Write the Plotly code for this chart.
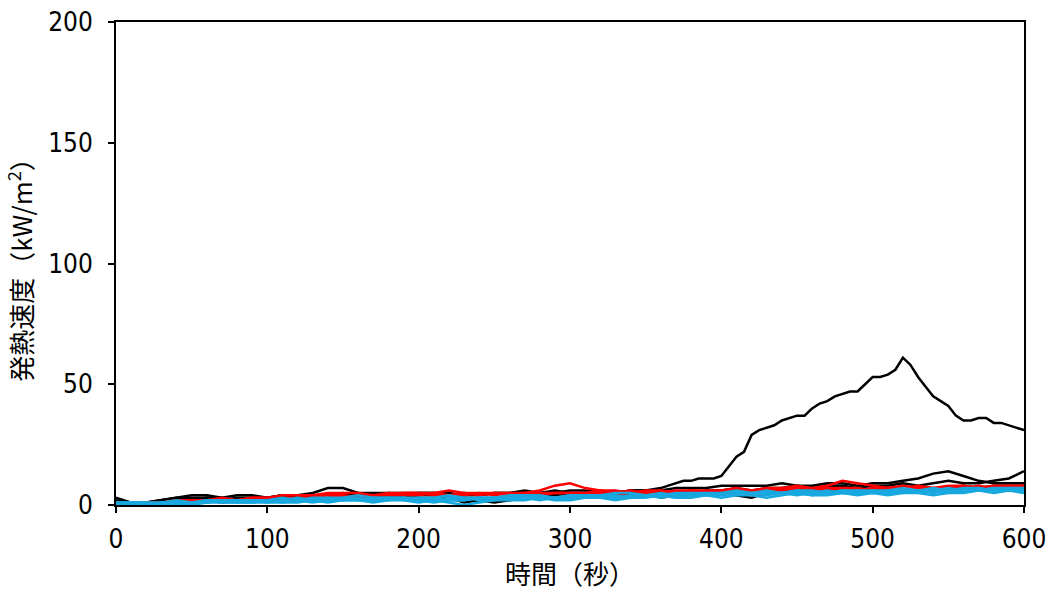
import plotly.graph_objects as go

# Time axis (s), sampled every 10 s
time_s = list(range(0, 601, 10))

# Specimen with the large peak, finer sampling after ignition
peak_time_s = (list(range(0, 360, 10)) + list(range(360, 601, 5)))
black_peak = [3, 1, 1, 2, 3, 3, 3, 2, 3, 3,
              3, 4, 3, 4, 4, 5, 4, 4, 5, 5,
              5, 5, 4, 5, 4, 5, 5, 5, 5, 6,
              5, 5, 6, 5, 6, 6,
              7, 8, 9, 10, 10, 11, 11, 11, 12, 16,
              20, 22, 29, 31, 32, 33, 35, 36, 37, 37,
              40, 42, 43, 45, 46, 47, 47, 50, 53, 53,
              54, 56, 61, 58, 53, 49, 45, 43, 41, 37,
              35, 35, 36, 36, 34, 34, 33, 32, 31]

# Heat release rate (kW/m2) of the other specimens
black_2 = [2, 1, 1, 2, 3, 4, 4, 3, 4, 4,
           3, 4, 4, 5, 7, 7, 5, 5, 5, 4,
           5, 5, 5, 4, 4, 5, 5, 6, 5, 5,
           6, 6, 5, 5, 6, 6, 6, 7, 7, 7,
           8, 8, 8, 8, 9, 8, 8, 9, 9, 8,
           9, 9, 10, 11, 13, 14, 12, 10, 9, 9,
           9]
black_3 = [1, 0, 1, 1, 2, 2, 3, 3, 2, 3,
           3, 3, 2, 3, 3, 4, 3, 4, 4, 3,
           4, 4, 3, 3, 2, 1, 2, 3, 4, 4,
           4, 4, 5, 5, 4, 5, 3, 4, 5, 6,
           6, 7, 6, 7, 7, 8, 7, 8, 8, 7,
           8, 8, 9, 8, 9, 10, 9, 9, 10, 11,
           14]
black_4 = [0, 0, 1, 1, 1, 2, 2, 1, 2, 2,
           2, 2, 3, 2, 3, 3, 3, 3, 4, 3,
           3, 2, 3, 1, 2, 3, 3, 3, 4, 3,
           3, 4, 4, 5, 4, 4, 5, 5, 4, 5,
           5, 4, 3, 5, 6, 6, 5, 6, 6, 5,
           6, 7, 6, 7, 6, 7, 8, 7, 8, 8,
           8]
red_1 = [0, 1, 1, 1, 2, 2, 2, 3, 2, 3,
         3, 4, 4, 4, 5, 5, 5, 4, 5, 5,
         5, 5, 6, 5, 5, 4, 5, 5, 6, 8,
         9, 7, 6, 6, 5, 6, 6, 5, 6, 6,
         6, 7, 6, 7, 7, 8, 7, 8, 10, 9,
         8, 7, 8, 7, 7, 8, 8, 7, 8, 8,
         8]
red_2 = [1, 0, 0, 1, 1, 2, 1, 2, 2, 2,
         2, 3, 3, 3, 4, 3, 4, 4, 4, 4,
         4, 5, 4, 4, 5, 5, 4, 5, 5, 5,
         5, 5, 6, 5, 6, 5, 5, 6, 6, 5,
         6, 6, 5, 6, 6, 7, 6, 7, 6, 6,
         7, 7, 6, 7, 7, 7, 8, 7, 7, 8,
         7]
red_3 = [0, 1, 0, 1, 1, 1, 2, 1, 2, 3,
         3, 2, 3, 3, 4, 4, 3, 4, 4, 5,
         5, 4, 4, 5, 4, 5, 5, 4, 4, 5,
         5, 5, 5, 4, 5, 5, 6, 5, 6, 5,
         6, 5, 6, 6, 7, 6, 6, 7, 7, 7,
         6, 7, 7, 8, 7, 6, 7, 8, 7, 7,
         8]
blue_1 = [1, 1, 0, 1, 1, 1, 2, 1, 1, 2,
          1, 2, 2, 1, 2, 2, 3, 2, 2, 3,
          2, 3, 2, 2, 3, 3, 2, 3, 3, 3,
          3, 4, 3, 3, 4, 4, 4, 3, 4, 4,
          4, 5, 4, 5, 5, 5, 4, 5, 5, 6,
          5, 5, 6, 6, 5, 6, 6, 7, 6, 6,
          7]
blue_2 = [0, 0, 1, 0, 1, 0, 1, 1, 1, 1,
          2, 1, 1, 2, 1, 2, 2, 1, 2, 2,
          1, 2, 1, 0, 1, 2, 2, 2, 3, 2,
          2, 3, 3, 2, 3, 3, 4, 3, 3, 4,
          3, 4, 4, 3, 4, 5, 4, 4, 5, 4,
          5, 4, 5, 5, 4, 5, 5, 6, 5, 6,
          5]
blue_3 = [1, 0, 0, 1, 2, 1, 1, 2, 2, 1,
          2, 2, 3, 2, 2, 3, 2, 3, 3, 2,
          3, 2, 3, 3, 2, 2, 3, 4, 3, 3,
          4, 3, 4, 4, 3, 4, 5, 4, 4, 5,
          4, 5, 5, 4, 5, 6, 5, 5, 6, 5,
          6, 5, 6, 5, 6, 7, 6, 6, 7, 6,
          6]
blue_4 = [0, 1, 1, 0, 1, 1, 1, 2, 1, 1,
          1, 1, 2, 2, 3, 2, 2, 2, 3, 3,
          2, 1, 2, 2, 3, 3, 3, 3, 2, 3,
          3, 3, 4, 3, 3, 4, 3, 4, 5, 4,
          5, 4, 5, 5, 5, 4, 5, 6, 5, 5,
          5, 6, 5, 6, 6, 5, 6, 6, 7, 7,
          6]
blue_5 = [1, 1, 1, 1, 0, 1, 2, 2, 2, 2,
          2, 3, 2, 3, 3, 3, 4, 3, 3, 3,
          3, 3, 4, 3, 3, 3, 4, 4, 4, 3,
          4, 4, 4, 5, 5, 4, 4, 5, 5, 5,
          5, 6, 5, 6, 5, 6, 6, 5, 6, 6,
          6, 6, 7, 6, 7, 6, 7, 7, 6, 7,
          7]

x_ticks = [0, 100, 200, 300, 400, 500, 600]
y_ticks = [0, 50, 100, 150, 200]

BLACK = "#000000"
RED = "#ff0000"
BLUE = "#18a8e0"

series = [
    (peak_time_s, black_peak, BLACK),
    (time_s, black_2, BLACK), (time_s, black_3, BLACK), (time_s, black_4, BLACK),
    (time_s, red_1, RED), (time_s, red_2, RED), (time_s, red_3, RED),
    (time_s, blue_1, BLUE), (time_s, blue_2, BLUE), (time_s, blue_3, BLUE),
    (time_s, blue_4, BLUE), (time_s, blue_5, BLUE),
]

fig = go.Figure()
for xs, values, color in series:
    fig.add_trace(go.Scatter(
        x=xs, y=values, mode="lines",
        line=dict(color=color, width=2.5),
        showlegend=False, hoverinfo="skip",
    ))

num_font = dict(family="DejaVu Sans Condensed, Liberation Sans, Arial, sans-serif",
                size=26, color="black")
jp_font = dict(family="Noto Sans CJK JP, sans-serif", size=26, color="black")

axis_common = dict(
    showline=True, linecolor="black", linewidth=2, mirror=True,
    ticks="outside", ticklen=6, tickwidth=2, tickcolor="black",
    showgrid=False, zeroline=False, tickfont=num_font, automargin=False,
)

fig.update_layout(
    width=1053, height=595,
    margin=dict(l=116, r=29, t=22, b=90),
    paper_bgcolor="white", plot_bgcolor="white",
    xaxis=dict(range=[0, 600], tickvals=x_ticks, ticklabelstandoff=4,
               title=dict(text="時間（秒）", font=jp_font, standoff=8),
               **axis_common),
    yaxis=dict(range=[0, 200], tickvals=y_ticks, ticklabelstandoff=10,
               title=dict(text="発熱速度（kW/m<sup>2</sup>）", font=jp_font, standoff=10),
               **axis_common),
)

fig.write_html("out.html")
